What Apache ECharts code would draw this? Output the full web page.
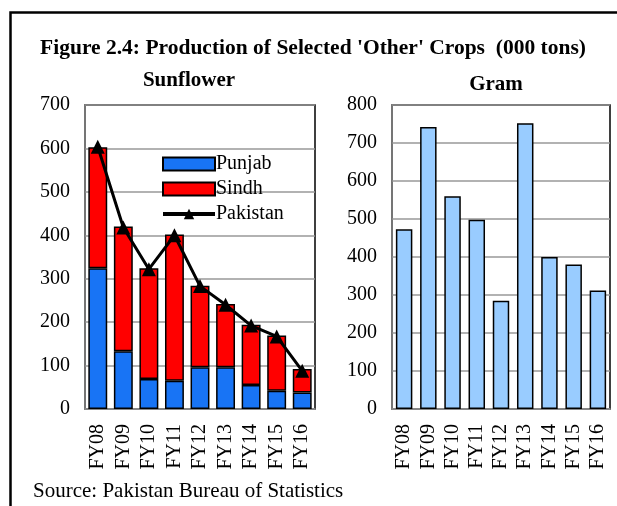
<!DOCTYPE html>
<html><head><meta charset="utf-8">
<script src="https://cdn.jsdelivr.net/npm/echarts@6/dist/echarts.min.js"></script>
<style>html,body{margin:0;padding:0;background:#fff}#c{width:617px;height:506px}</style>
</head><body><div id="c"></div>
<script>
const categories = ['FY08','FY09','FY10','FY11','FY12','FY13','FY14','FY15','FY16'];
const punjab = [324, 133, 69, 65, 96, 96, 55, 42, 38];
const sindh = [279, 287, 255, 337, 188, 146, 139, 127, 54];
const pakistan = [604, 418, 322, 400, 283, 240, 192, 167, 88];
const gram = [473, 742, 560, 498, 285, 752, 400, 380, 312];
const sunflowerTicks = [0, 700, 100];
const gramTicks = [0, 800, 100];

const serif = 'Liberation Serif, Times New Roman, serif';
const chart = echarts.init(document.getElementById('c'));
function yAxis(idx, t) {
  return {
    type: 'value', gridIndex: idx, min: t[0], max: t[1], interval: t[2],
    axisLine: {show: true, lineStyle: {color: '#888', width: 1.5}},
    axisTick: {show: false},
    axisLabel: {color: '#000', fontFamily: serif, fontSize: 20, margin: 15},
    splitLine: {lineStyle: {color: '#999', width: 1.5}}
  };
}
function xAxis(idx) {
  return {
    type: 'category', gridIndex: idx, data: categories,
    axisLine: {show: true, lineStyle: {color: '#888', width: 1.5}},
    axisTick: {show: false},
    axisLabel: {color: '#000', fontFamily: serif, fontSize: 20, rotate: 90, margin: 15, interval: 0}
  };
}
chart.setOption({
  animation: false,
  backgroundColor: '#fff',
  graphic: [
    {type: 'rect', shape: {x: 10.5, y: 12.5, width: 620, height: 520}, style: {fill: 'none', stroke: '#000', lineWidth: 2.5}},
    {type: 'text', x: 313, y: 37, style: {text: "Figure 2.4: Production of Selected 'Other' Crops  (000 tons)", font: 'bold 21.5px ' + serif, fill: '#000', textAlign: 'center'}},
    {type: 'text', x: 189, y: 70, style: {text: 'Sunflower', font: 'bold 21px ' + serif, fill: '#000', textAlign: 'center'}},
    {type: 'text', x: 496, y: 74, style: {text: 'Gram', font: 'bold 21px ' + serif, fill: '#000', textAlign: 'center'}},
    {type: 'text', x: 33, y: 481, style: {text: 'Source: Pakistan Bureau of Statistics', font: '21px ' + serif, fill: '#000'}}
  ],
  grid: [
    {left: 85, top: 105, width: 230, height: 304, show: true, borderColor: '#000', borderWidth: 1.5},
    {left: 392, top: 105, width: 218, height: 304, show: true, borderColor: '#000', borderWidth: 1.5}
  ],
  legend: {
    data: [{name: 'Punjab', icon: 'rect'}, {name: 'Sindh', icon: 'rect'}, {name: 'Pakistan', lineStyle: {width: 4}}],
    orient: 'vertical', left: 156, top: 149, itemWidth: 52, itemHeight: 13, itemGap: 5,
    textStyle: {fontFamily: serif, fontSize: 20, color: '#000', padding: [0, 0, 0, -4]}
  },
  xAxis: [xAxis(0), xAxis(1)],
  yAxis: [yAxis(0, sunflowerTicks), yAxis(1, gramTicks)],
  series: [
    {name: 'Punjab', type: 'bar', stack: 's', xAxisIndex: 0, yAxisIndex: 0, data: punjab, barCategoryGap: '26%',
      itemStyle: {color: '#1874F5', borderColor: '#000', borderWidth: 1.5}},
    {name: 'Sindh', type: 'bar', stack: 's', xAxisIndex: 0, yAxisIndex: 0, data: sindh,
      itemStyle: {color: '#FF0000', borderColor: '#000', borderWidth: 1.5}},
    {name: 'Pakistan', type: 'line', xAxisIndex: 0, yAxisIndex: 0, data: pakistan,
      symbol: 'triangle', symbolSize: 14, lineStyle: {color: '#000', width: 3}, itemStyle: {color: '#000'}},
    {name: 'Gram', type: 'bar', xAxisIndex: 1, yAxisIndex: 1, data: gram, barCategoryGap: '32%',
      itemStyle: {color: '#99CCFF', borderColor: '#000', borderWidth: 1.5}}
  ]
});
</script></body></html>
